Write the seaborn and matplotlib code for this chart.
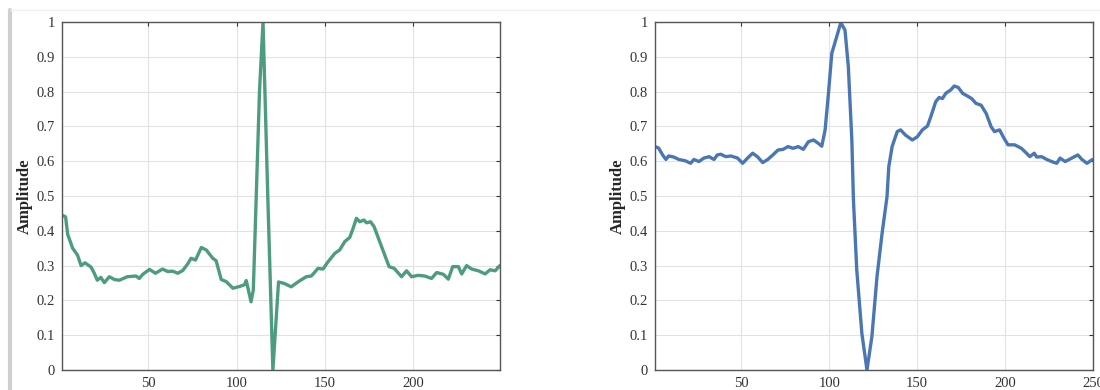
import matplotlib
matplotlib.use("Agg")
import matplotlib.pyplot as plt
import seaborn as sns
import pandas as pd
from matplotlib.lines import Line2D

# Left panel signal (sample index, amplitude)
LEFT_X = [1, 3, 4.2, 7, 9.8, 11.8, 14, 17.4, 19.3, 21, 23, 25, 27.8, 30.7, 33.5, 38, 43,
          44.8, 46.8, 50.6, 54, 58, 60.9, 63.8, 66.6, 69.5, 72.3, 74.2, 76.7, 80, 82.8,
          86.5, 88.4, 91.3, 94.1, 97.9, 101.7, 104.5, 105.5, 108.2, 109.5, 111.1, 113,
          115, 117.7, 120.6, 123.8, 126.9, 131, 134.8, 139.5, 142.4, 146.2, 149, 151.9,
          155.7, 158.5, 161.4, 164.2, 166.1, 168, 169.9, 172.2, 173.7, 176, 178, 180.8,
          183.7, 186.5, 189.4, 193.6, 196.4, 199.3, 203, 206.8, 210.6, 213.5, 217.3,
          220.1, 222.6, 225.8, 227.7, 230.5, 233.4, 237.2, 241, 243.8, 246.7, 249.4]
LEFT_Y = [0.445, 0.44, 0.39, 0.35, 0.33, 0.30, 0.308, 0.296, 0.278, 0.258, 0.266, 0.251,
          0.268, 0.26, 0.258, 0.268, 0.27, 0.263, 0.275, 0.289, 0.278, 0.29, 0.283, 0.284,
          0.278, 0.286, 0.305, 0.321, 0.316, 0.352, 0.345, 0.321, 0.314, 0.26, 0.254,
          0.235, 0.24, 0.245, 0.257, 0.196, 0.23, 0.49, 0.80, 1.0, 0.50, 0.0, 0.253,
          0.249, 0.239, 0.253, 0.268, 0.27, 0.292, 0.29, 0.311, 0.335, 0.345, 0.369, 0.381,
          0.407, 0.436, 0.426, 0.431, 0.423, 0.426, 0.412, 0.374, 0.335, 0.297, 0.292,
          0.268, 0.285, 0.268, 0.272, 0.27, 0.263, 0.28, 0.275, 0.261, 0.297, 0.297, 0.276,
          0.30, 0.29, 0.285, 0.276, 0.288, 0.285, 0.30]

# Right panel signal
RIGHT_X = [1, 3, 5.3, 7.2, 8.7, 11.6, 14.5, 18.3, 21.2, 23.1, 25.9, 28.8, 31.7, 34.5,
           36.4, 38.4, 41.2, 44.1, 47.9, 50.8, 53.6, 56.5, 59.4, 62.2, 65.1, 68, 70.9,
           73.8, 76.6, 79.5, 82.4, 85.3, 88.2, 91.1, 93.9, 95.8, 97.7, 99.6, 101.5, 104.3,
           106.6, 109, 110.9, 112.9, 113.8, 115.7, 118.6, 121.5, 124.3, 127.2, 130.1,
           132.9, 133.9, 135.8, 138.7, 140.6, 143.4, 147.3, 150.1, 153, 155.9, 157.8,
           160.6, 162.5, 164.4, 166.3, 169.2, 171.1, 173.4, 175.9, 178.7, 181, 183.5,
           186.4, 189.3, 192.1, 194, 196.9, 199.4, 201.7, 205.5, 209.3, 212.2, 214.1,
           216.6, 218, 220.8, 223.7, 226.5, 229.4, 231.3, 234.2, 238, 241.4, 243.7, 246.6,
           249.1, 250]
RIGHT_Y = [0.642, 0.638, 0.618, 0.605, 0.615, 0.612, 0.605, 0.601, 0.594, 0.605, 0.599,
           0.609, 0.613, 0.605, 0.618, 0.62, 0.613, 0.615, 0.609, 0.594, 0.609, 0.623,
           0.612, 0.596, 0.605, 0.618, 0.632, 0.634, 0.642, 0.637, 0.642, 0.634, 0.656,
           0.661, 0.651, 0.643, 0.69, 0.795, 0.91, 0.958, 0.998, 0.977, 0.872, 0.661,
           0.489, 0.287, 0.105, 0.0, 0.096, 0.268, 0.393, 0.498, 0.584, 0.642, 0.685,
           0.69, 0.675, 0.661, 0.67, 0.69, 0.701, 0.728, 0.771, 0.783, 0.78, 0.795, 0.805,
           0.816, 0.812, 0.795, 0.787, 0.78, 0.766, 0.761, 0.737, 0.699, 0.685, 0.69,
           0.666, 0.647, 0.647, 0.637, 0.623, 0.613, 0.623, 0.612, 0.613, 0.605, 0.599,
           0.594, 0.609, 0.599, 0.609, 0.618, 0.605, 0.594, 0.603, 0.605]

Y_TICKS = [0, 0.1, 0.2, 0.3, 0.4, 0.5, 0.6, 0.7, 0.8, 0.9, 1]
Y_TICK_LABELS = ["0", "0.1", "0.2", "0.3", "0.4", "0.5", "0.6", "0.7", "0.8", "0.9", "1"]

GREEN = "#4e9c80"
BLUE = "#4a77b4"


def style_axes(ax, xticks, xlim):
    ax.set_xlim(*xlim)
    ax.set_ylim(0, 1)
    ax.set_xticks(xticks)
    ax.set_xticklabels([str(t) for t in xticks])
    ax.set_yticks(Y_TICKS)
    ax.set_yticklabels(Y_TICK_LABELS)
    ax.set_xlabel("")
    ax.set_ylabel("Amplitude", fontweight="bold", fontsize=12, labelpad=3)
    ax.grid(True, color="#e2e2e2", linewidth=0.8)
    ax.tick_params(direction="in", length=3, width=0.8, top=True, right=True,
                   labelsize=10.5, colors="#333333", pad=5)
    for s in ax.spines.values():
        s.set_visible(True)
        s.set_color("#555555")
        s.set_linewidth(1.0)


sns.set_theme(style="whitegrid")
plt.rcParams["font.family"] = ["Liberation Serif", "DejaVu Serif"]

fig = plt.figure(figsize=(11, 3.9), dpi=100)
ax1 = fig.add_axes([0.0564, 0.0513, 0.3981, 0.8923])
ax2 = fig.add_axes([0.5955, 0.0513, 0.3981, 0.8923])

left_df = pd.DataFrame({"x": LEFT_X, "y": LEFT_Y})
right_df = pd.DataFrame({"x": RIGHT_X, "y": RIGHT_Y})

sns.lineplot(data=left_df, x="x", y="y", ax=ax1, color=GREEN, linewidth=2.4,
             sort=False, estimator=None)
sns.lineplot(data=right_df, x="x", y="y", ax=ax2, color=BLUE, linewidth=2.4,
             sort=False, estimator=None)

style_axes(ax1, [50, 100, 150, 200], (1, 249.4))
style_axes(ax2, [50, 100, 150, 200, 250], (1, 250))

# screenshot border artefacts
fig.add_artist(Line2D([0.009, 0.009], [0, 0.975], color="#cfcfcf", linewidth=3))
fig.add_artist(Line2D([0.009, 1], [0.975, 0.975], color="#f0f0f0", linewidth=1))

fig.savefig("out.png", dpi=100, facecolor="white")
